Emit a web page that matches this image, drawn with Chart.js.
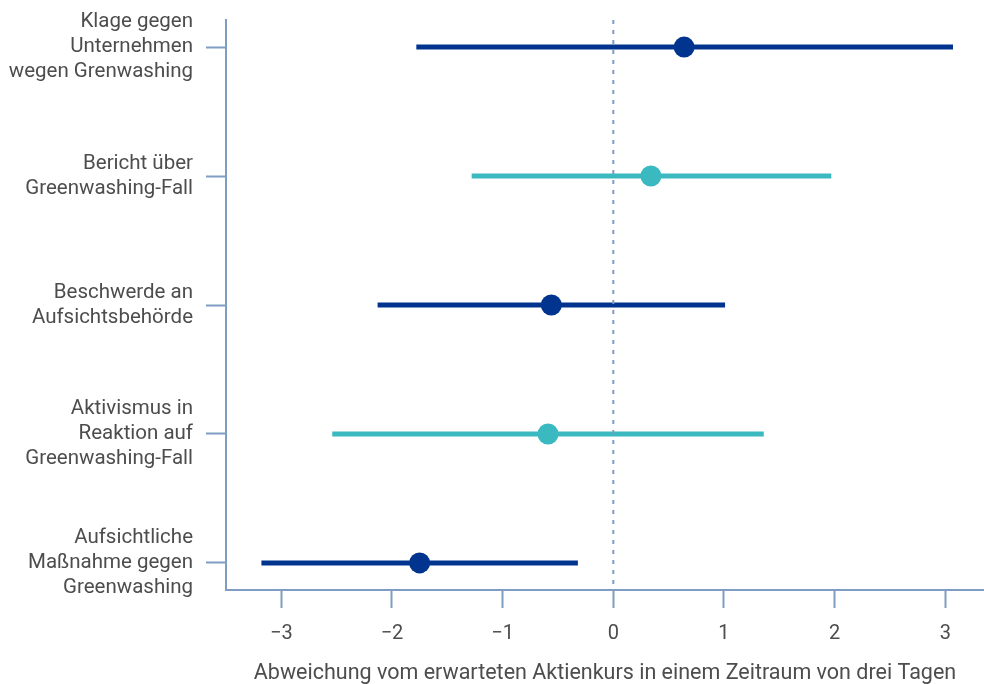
<!DOCTYPE html>
<html lang="de">
<head>
<meta charset="utf-8">
<title>Greenwashing – Abweichung vom erwarteten Aktienkurs</title>
<script src="https://cdn.jsdelivr.net/npm/chart.js@4.4.1/dist/chart.umd.min.js"></script>
<style>
    html, body { margin: 0; padding: 0; background: #fff; }
    #wrap { width: 984px; height: 684px; }
</style>
</head>
<body>
<div id="wrap"><canvas id="chart" width="984" height="684"></canvas></div>
<script>
// Ereignisse (von oben nach unten)
const categories = [
    ['Klage gegen', 'Unternehmen', 'wegen Grenwashing'],
    ['Bericht über', 'Greenwashing-Fall'],
    ['Beschwerde an', 'Aufsichtsbehörde'],
    ['Aktivismus in', 'Reaktion auf', 'Greenwashing-Fall'],
    ['Aufsichtliche', 'Maßnahme gegen', 'Greenwashing']
];
const estimates = [0.64, 0.34, -0.56, -0.59, -1.75];
const lower = [-1.78, -1.28, -2.13, -2.54, -3.18];
const upper = [3.07, 1.97, 1.01, 1.36, -0.32];
const xTicks = [-3, -2, -1, 0, 1, 2, 3];

const NAVY = '#00348f';
const TEAL = '#3bb9c0';
const AXIS = '#7f9cc3';
const TEXT = '#4d4d4d';
const rowColors = [NAVY, TEAL, NAVY, TEAL, NAVY];

const Y_MIN = -0.21, Y_MAX = 4.21;

document.addEventListener('DOMContentLoaded', () => {
    const datasets = [];

    // Punktschätzer (zuerst = oben gezeichnet)
    datasets.push({
        type: 'scatter',
        data: estimates.map((v, i) => ({ x: v, y: i })),
        pointRadius: 10.5,
        pointHoverRadius: 10.5,
        pointBackgroundColor: rowColors,
        pointBorderWidth: 0
    });

    // Nulllinie
    datasets.push({
        type: 'line',
        data: [{ x: 0, y: Y_MIN }, { x: 0, y: Y_MAX }],
        borderColor: AXIS,
        borderWidth: 2,
        borderDash: [4, 6],
        pointRadius: 0
    });

    // Konfidenzintervalle
    categories.forEach((c, i) => {
        datasets.push({
            type: 'line',
            data: [{ x: lower[i], y: i }, { x: upper[i], y: i }],
            borderColor: rowColors[i],
            borderWidth: 5,
            borderCapStyle: 'butt',
            pointRadius: 0
        });
    });

    new Chart(document.getElementById('chart'), {
        type: 'scatter',
        data: { datasets: datasets },
        options: {
            responsive: false,
            animation: false,
            layout: { autoPadding: false, padding: { top: 20, right: 0, bottom: 0, left: 0 } },
            plugins: {
                legend: { display: false },
                tooltip: { enabled: false }
            },
            scales: {
                x: {
                    type: 'linear',
                    min: -3.5,
                    max: 3.35,
                    afterBuildTicks: (s) => { s.ticks = xTicks.map(v => ({ value: v })); },
                    afterFit: (s) => { s.height = 94; s.paddingLeft = 0; s.paddingRight = 0; },
                    grid: {
                        drawOnChartArea: false,
                        drawTicks: true,
                        tickLength: 18,
                        tickColor: AXIS,
                        tickWidth: 2
                    },
                    border: { color: AXIS, width: 2 },
                    ticks: {
                        color: TEXT,
                        padding: 14,
                        font: { family: 'Roboto', size: 20 },
                        callback: (v) => String(v).replace('-', '\u2212')
                    },
                    title: {
                        display: true,
                        text: 'Abweichung vom erwarteten Aktienkurs in einem Zeitraum von drei Tagen',
                        color: TEXT,
                        font: { family: 'Roboto', size: 21.5 },
                        padding: { top: 0, bottom: -3 }
                    }
                },
                y: {
                    type: 'linear',
                    reverse: true,
                    min: Y_MIN,
                    max: Y_MAX,
                    afterBuildTicks: (s) => { s.ticks = categories.map((c, i) => ({ value: i })); },
                    afterFit: (s) => { s.width = 226; s.paddingTop = 0; s.paddingBottom = 0; },
                    grid: {
                        drawOnChartArea: false,
                        drawTicks: true,
                        tickLength: 20,
                        tickColor: AXIS,
                        tickWidth: 2
                    },
                    border: { color: AXIS, width: 2 },
                    ticks: {
                        color: TEXT,
                        padding: 13,
                        font: { family: 'Roboto', size: 20.5, lineHeight: 1.22 },
                        callback: (v) => categories[v]
                    }
                }
            }
        }
    });
});
</script>
</body>
</html>
